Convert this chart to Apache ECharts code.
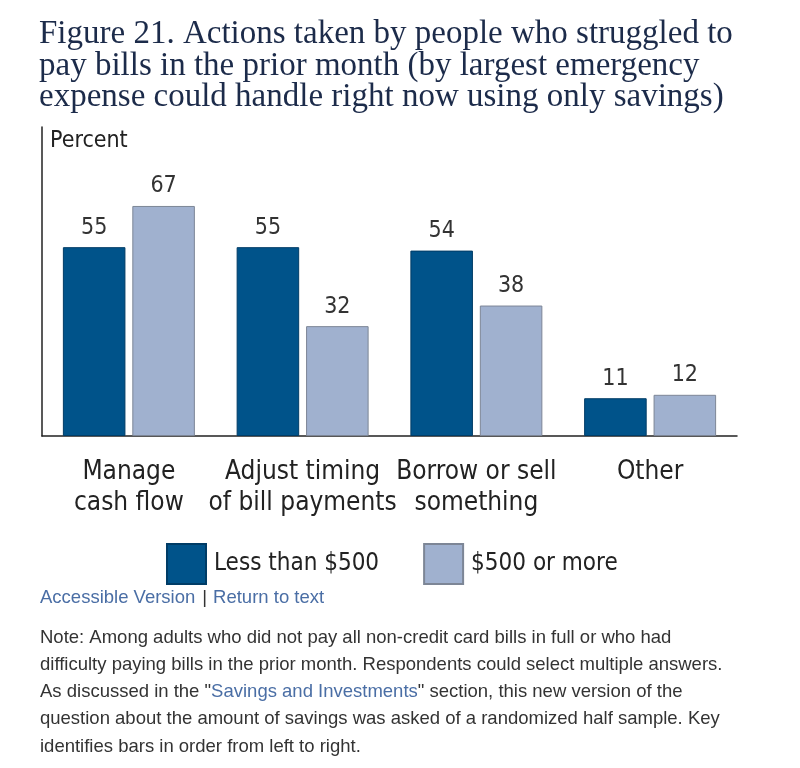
<!DOCTYPE html>
<html>
<head>
<meta charset="utf-8">
<script src="https://cdn.jsdelivr.net/npm/echarts@6/dist/echarts.min.js"></script>
<style>
  html, body { margin: 0; padding: 0; background: #fff; }
  #main { width: 800px; height: 768px; }
</style>
</head>
<body>
<div id="main"></div>
<script>
// data
var categories = ['Manage\ncash flow', 'Adjust timing\nof bill payments', 'Borrow or sell\nsomething', 'Other'];
var lessThan500 = [55, 55, 54, 11];
var moreThan500 = [67, 32, 38, 12];
var seriesNames = ['Less than $500', '$500 or more'];

var narrow = "'Liberation Sans Narrow', 'DejaVu Sans Condensed', sans-serif";
var serif = "'Liberation Serif', 'DejaVu Serif', serif";
var sans = "'Liberation Sans', Arial, sans-serif";

var chart = echarts.init(document.getElementById('main'));

var option = {
    animation: false,
    backgroundColor: '#fff',
    grid: { left: 42, right: 63, top: 127, bottom: 332 },
    legend: {
        left: 166, top: 543, padding: 0,
        icon: 'rect',
        itemWidth: 39, itemHeight: 40, itemGap: 44,
        textStyle: { fontFamily: narrow, fontSize: 24, color: '#222', padding: [0, 0, 0, 3] },
        data: seriesNames
    },
    xAxis: {
        type: 'category',
        data: categories,
        axisLine: { lineStyle: { color: '#222', width: 1.5 } },
        axisTick: { show: false },
        axisLabel: { fontFamily: narrow, fontSize: 26, lineHeight: 31, color: '#222', margin: 21, interval: 0 }
    },
    yAxis: {
        type: 'value', min: 0, max: 90,
        axisLine: { show: true, lineStyle: { color: '#222', width: 1.5 } },
        axisTick: { show: false },
        axisLabel: { show: false },
        splitLine: { show: false }
    },
    series: [
        {
            name: seriesNames[0], type: 'bar', data: lessThan500,
            barWidth: '36%', barGap: '11%',
            itemStyle: { color: '#00538a', borderColor: '#003c66', borderWidth: 1 },
            label: { show: true, position: 'top', distance: 8, fontFamily: narrow, fontSize: 23, color: '#333' }
        },
        {
            name: seriesNames[1], type: 'bar', data: moreThan500,
            barWidth: '36%', barGap: '11%',
            itemStyle: { color: '#a0b1cf', borderColor: '#7d8696', borderWidth: 1 },
            label: { show: true, position: 'top', distance: 8, fontFamily: narrow, fontSize: 23, color: '#333' }
        }
    ],
    graphic: [
        {
            type: 'text', left: 39, top: 18,
            style: {
                text: 'Figure 21. Actions taken by people who struggled to\npay bills in the prior month (by largest emergency\nexpense could handle right now using only savings)',
                font: '33px ' + serif, lineHeight: 31.5, fill: '#1c2b4a'
            }
        },
        {
            type: 'text', left: 50, top: 130,
            style: { text: 'Percent', font: '23px ' + narrow, fill: '#222' }
        },
        {
            type: 'text', left: 40, top: 588,
            style: {
                text: '{a|Accessible Version}{b||}{a|Return to text}',
                rich: {
                    a: { fontFamily: sans, fontSize: 18.5, fill: '#4a6ea5' },
                    b: { fontFamily: sans, fontSize: 18.5, fill: '#333', padding: [0, 6, 0, 7] }
                }
            }
        },
        {
            type: 'text', left: 40, top: 628,
            style: {
                text: '{t|Note: Among adults who did not pay all non-credit card bills in full or who had}\n' +
                      '{t|difficulty paying bills in the prior month. Respondents could select multiple answers.}\n' +
                      '{t|As discussed in the "}{l|Savings and Investments}{t|" section, this new version of the}\n' +
                      '{t|question about the amount of savings was asked of a randomized half sample. Key}\n' +
                      '{t|identifies bars in order from left to right.}',
                rich: {
                    t: { fontFamily: sans, fontSize: 18.5, lineHeight: 27.3, fill: '#333' },
                    l: { fontFamily: sans, fontSize: 18.5, lineHeight: 27.3, fill: '#4a6ea5' }
                }
            }
        }
    ]
};

chart.setOption(option);
</script>
</body>
</html>
